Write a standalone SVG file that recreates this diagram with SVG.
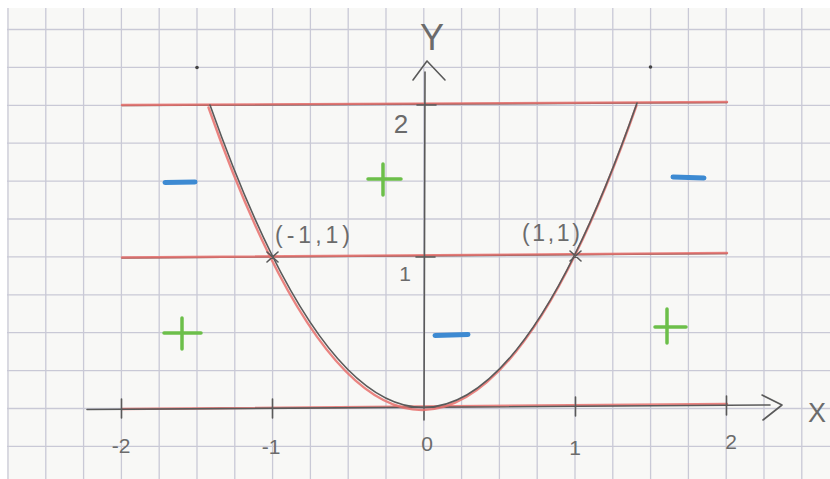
<svg xmlns="http://www.w3.org/2000/svg" width="830" height="479" viewBox="0 0 830 479">
<style>
.grid{stroke:#c9c9d6;stroke-width:1.3;fill:none}
.pencil{stroke:#5a5a5a;stroke-width:1.6;fill:none;stroke-linecap:round;stroke-linejoin:round}
.red{stroke:#e8706c;stroke-width:2.4;fill:none;stroke-linecap:round;opacity:0.85}
.lbl{font-family:"Liberation Sans","DejaVu Sans",sans-serif;font-size:21px;fill:#6b6b6b}
.axl{font-family:"Liberation Sans","DejaVu Sans",sans-serif;fill:#6b6b6b}
.blue{stroke:#3d8ad2;stroke-width:5;stroke-linecap:round;fill:none}
.green{stroke:#6cbf4a;stroke-width:3.5;stroke-linecap:round;fill:none}
</style>
<rect x="0" y="0" width="830" height="479" fill="#ffffff"/>
<rect id="paper" x="7" y="8" width="823" height="471" fill="#f8f8f6"/>
<g id="grid">
<path class="grid" d="M8 8V479M45.8 8V479M83.6 8V479M121.4 8V479M159.2 8V479M197 8V479M234.8 8V479M272.6 8V479M310.4 8V479M348.2 8V479M386 8V479M423.8 8V479M461.6 8V479M499.4 8V479M537.2 8V479M575 8V479M612.8 8V479M650.6 8V479M688.4 8V479M726.2 8V479M764 8V479M801.8 8V479"/>
<path class="grid" d="M7 29.5H830M7 67.4H830M7 105.3H830M7 143.2H830M7 181.1H830M7 219H830M7 256.9H830M7 294.8H830M7 332.7H830M7 370.6H830M7 408.5H830M7 446.4H830"/>
</g>
<g id="level-lines">
<path class="pencil" stroke-width="1.3" d="M122 105.5L727 102.5M122 258L727 253.5"/>
<path class="red" d="M122 105L727 102M122 257.5L727 253M122 409L727 404"/>
</g>
<g id="axes">
<path class="pencil" d="M87 409.5L770 405"/>
<path class="pencil" d="M762 395L782 405L763 420"/>
<path class="pencil" d="M424 420L425 72"/>
<path class="pencil" d="M413 80L427 61L445 80"/>
<path class="pencil" d="M121.5 399V418M272.5 399V418M575.5 397V416M726.5 396V415"/>
<path class="pencil" d="M417 105H436M416 257H435"/>
<text class="axl" x="432" y="50" style="font-size:36px" text-anchor="middle">Y</text>
<text class="axl" x="817" y="422" style="font-size:27px" text-anchor="middle">X</text>
</g>
<g id="tick-labels">
<text class="lbl" x="121" y="453" text-anchor="middle">-2</text>
<text class="lbl" x="271" y="454" text-anchor="middle">-1</text>
<text class="lbl" x="427" y="451" text-anchor="middle">0</text>
<text class="lbl" x="575" y="455" text-anchor="middle">1</text>
<text class="lbl" x="731" y="449" text-anchor="middle">2</text>
<text class="axl" x="401" y="133" style="font-size:26px" text-anchor="middle">2</text>
<text class="lbl" x="405" y="281" text-anchor="middle">1</text>
</g>
<g id="parabola">
<path class="red" stroke-width="3" d="M210 106Q424 712 638 104" transform="translate(-1.5,1.5)"/>
<path class="pencil" stroke-width="1.8" d="M210 105Q424 711 637 103"/>
<path class="pencil" stroke-width="1.3" d="M267 252L278 262M267 262L278 252M570 251L581 261M570 261L581 251"/>
</g>
<g id="point-labels">
<text class="axl" x="275" y="243" style="font-size:23px" textLength="75" lengthAdjust="spacing">(-1,1)</text>
<text class="axl" x="522" y="241" style="font-size:23px" textLength="58" lengthAdjust="spacing">(1,1)</text>
</g>
<g id="signs">
<path class="blue" d="M165 182.5L195 182M673 177L704 178M435 335.5L468 334.5"/>
<path class="green" d="M368 179H401M383 164V195M164 333H201M182 318V349M655 327H686M667 309V343"/>
</g>
<g id="dots" fill="#444">
<circle cx="197" cy="67.5" r="1.8"/>
<circle cx="650.5" cy="67" r="1.8"/>
</g>
</svg>
